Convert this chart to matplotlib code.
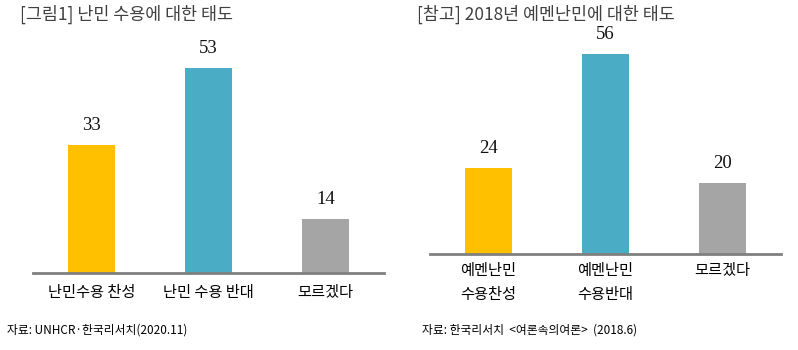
import matplotlib.pyplot as plt

plt.rcParams['font.family'] = ['Noto Sans CJK KR', 'DejaVu Sans']

# left chart: 2020
left_title = "[그림1] 난민 수용에 대한 태도"
left_cats = ["난민수용 찬성", "난민 수용 반대", "모르겠다"]
left_vals = [33, 53, 14]
left_src = "자료: UNHCR·한국리서치(2020.11)"

# right chart: 2018
right_title = "[참고] 2018년 예멘난민에 대한 태도"
right_cats = ["예멘난민\n수용찬성", "예멘난민\n수용반대", "모르겠다"]
right_vals = [24, 56, 20]
right_src = "자료: 한국리서치  <여론속의여론>  (2018.6)"

colors = ["#FFC000", "#4BACC6", "#A5A5A5"]

W, H = 798, 350
fig = plt.figure(figsize=(W / 100, H / 100), dpi=100)


def draw(rect, cats, vals, ymax, pad):
    ax = fig.add_axes(rect)
    x = range(len(cats))
    ax.bar(x, vals, width=0.4, color=colors)
    for xi, v in zip(x, vals):
        ax.annotate(str(v), (xi, v), xytext=(0, 14), textcoords="offset points",
                    ha="center", va="center", fontsize=13.5,
                    family="Liberation Serif", color="#111111")
    ax.set_xlim(-0.5, len(cats) - 0.5)
    ax.set_ylim(0, ymax)
    ax.set_yticks([])
    ax.set_xticks(list(x))
    ax.set_xticklabels(cats, fontsize=11, linespacing=1.5)
    ax.tick_params(axis="x", length=0, pad=pad)
    for s in ["top", "left", "right"]:
        ax.spines[s].set_visible(False)
    ax.spines["bottom"].set_color("#808080")
    ax.spines["bottom"].set_linewidth(2)
    return ax


# axes positions in pixels: left, baseline, width
draw([33 / W, (H - 273) / H, 351 / W, 232 / H], left_cats, left_vals, 60, 8)
draw([430 / W, (H - 254) / H, 351 / W, 214 / H], right_cats, right_vals, 60, 6)

fig.text(20 / W, 1 - 14 / H, left_title, fontsize=12.5, color="#404040", va="center")
fig.text(417 / W, 1 - 14 / H, right_title, fontsize=12.5, color="#404040", va="center")
fig.text(7 / W, 1 - 330 / H, left_src, fontsize=8.5, va="center")
fig.text(422 / W, 1 - 330 / H, right_src, fontsize=8.5, va="center")

fig.savefig("out.png", dpi=100, facecolor="white")
